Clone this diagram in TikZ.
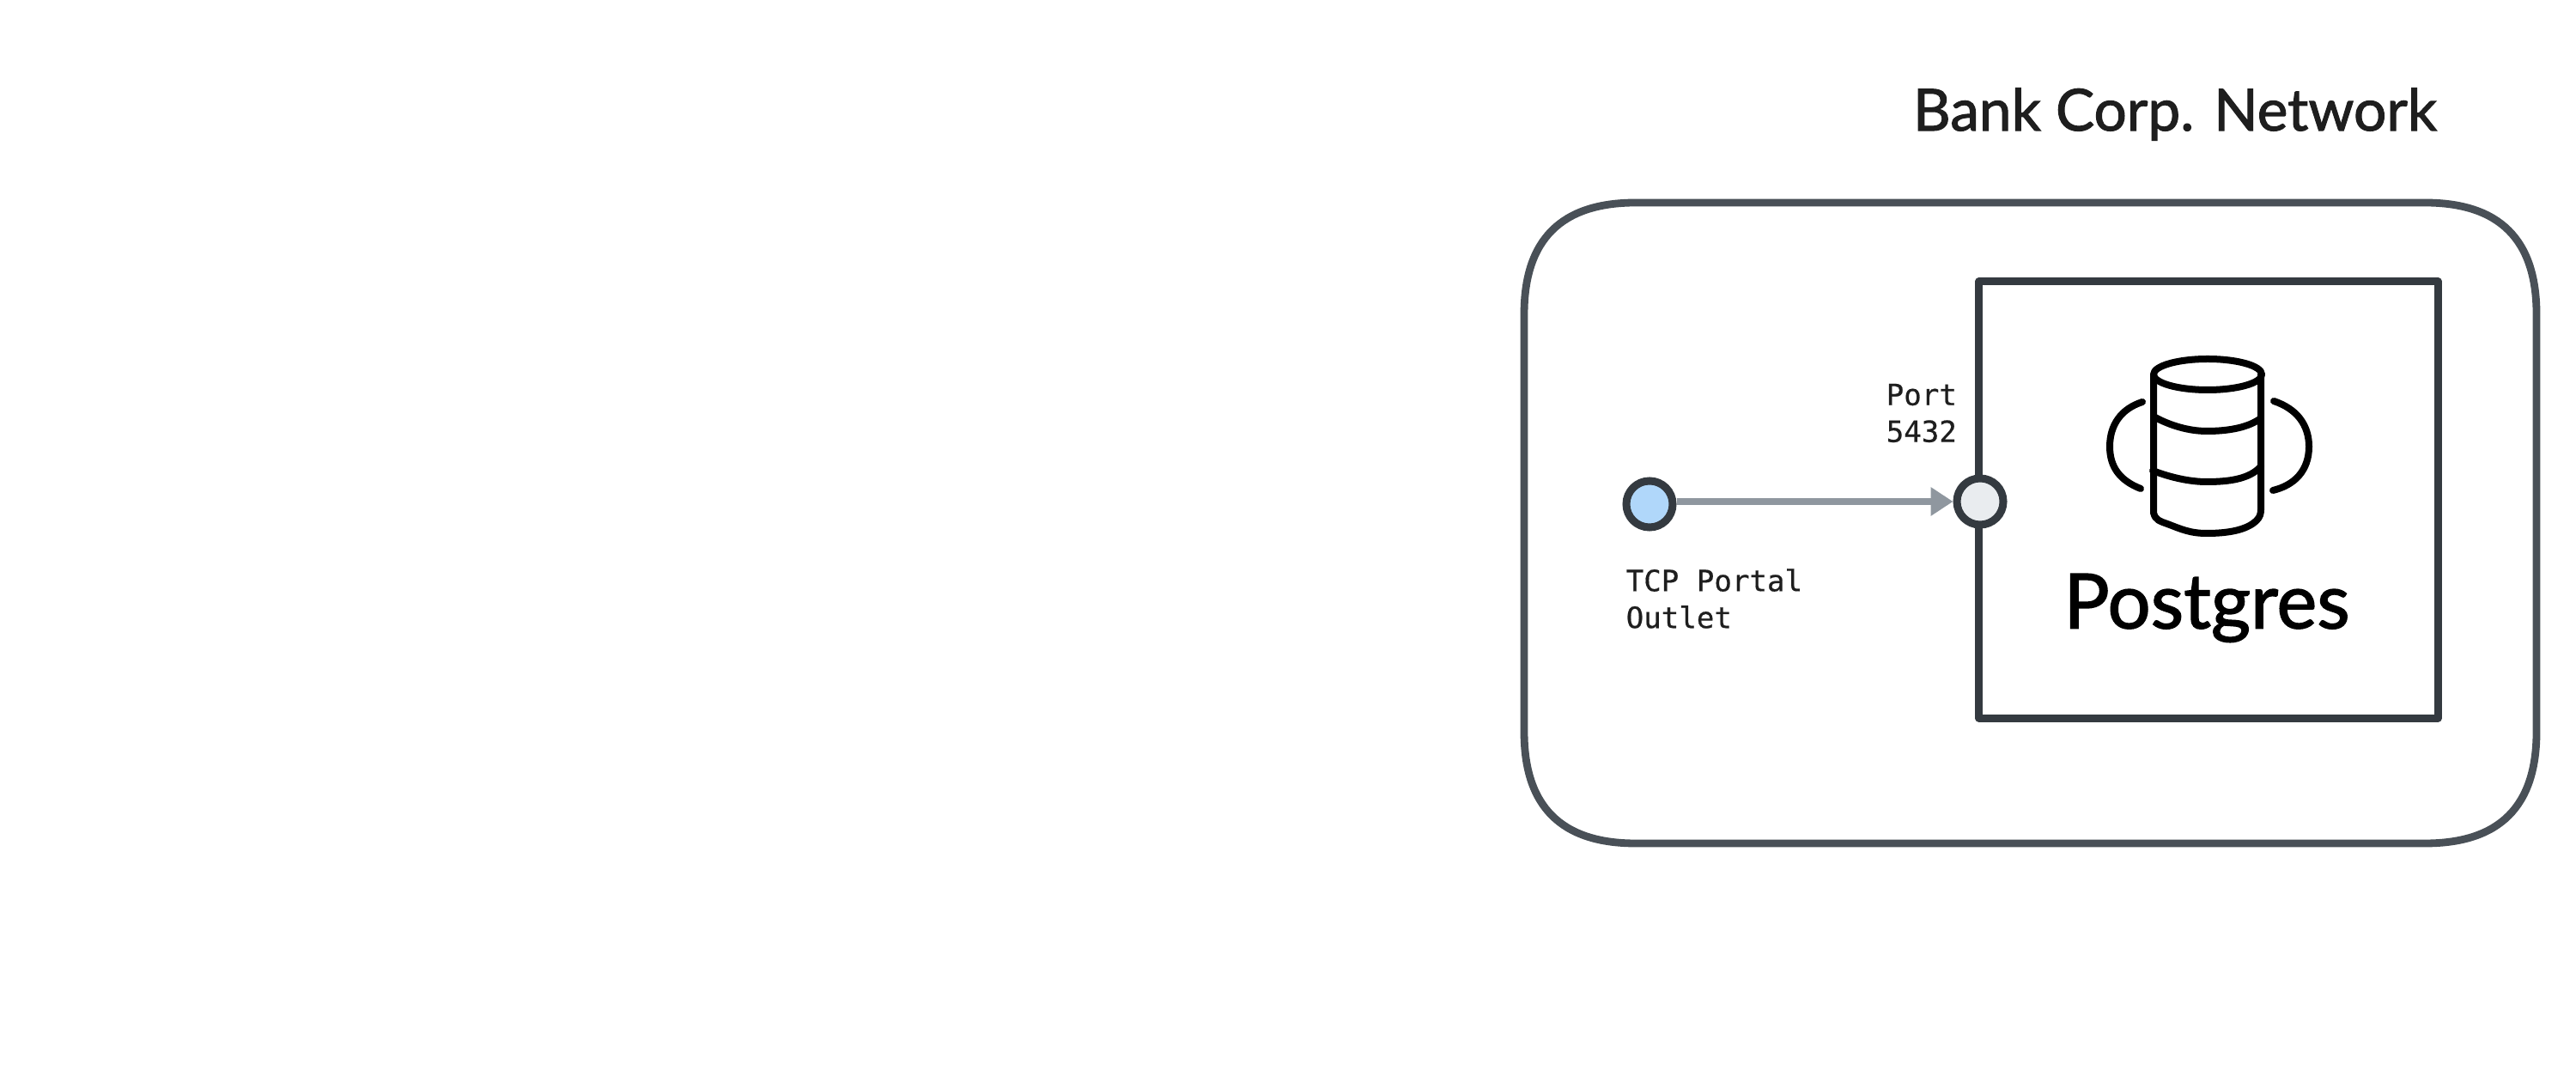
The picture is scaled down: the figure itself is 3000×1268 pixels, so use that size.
\documentclass[tikz,border=0pt]{standalone}
\usepackage{fontspec}
\setmainfont{Lato}
\setmonofont[FakeBold=0.5]{DejaVu Sans Mono}
\newfontfamily\handfont[FakeBold=1.6]{Lato}
\usetikzlibrary{arrows.meta}
\definecolor{outerc}{HTML}{495057}
\definecolor{innerc}{HTML}{343A40}
\definecolor{linkc}{HTML}{8F979F}
\definecolor{inkc}{HTML}{1E1E1E}
\definecolor{portalc}{HTML}{B0D7FA}
\definecolor{portc}{HTML}{E9ECEF}
\tikzset{
  x=0.01cm,y=-0.01cm,
  netline/.style={draw=outerc,line width=0.088cm},
  svcbox/.style={draw=innerc,line width=0.088cm,line join=round,minimum width=5.34cm,minimum height=5.08cm,inner sep=0pt},
  dot/.style={circle,draw=innerc,line width=0.09cm,minimum size=0.54cm,inner sep=0pt},
  monolabel/.style={font=\ttfamily\fontsize{9.7}{12.2}\selectfont,text=inkc,align=left,inner sep=0pt,anchor=west},
  link/.style={draw=linkc,line width=0.085cm,-{Triangle[length=0.26cm,width=0.32cm]},shorten >=0pt},
  icon/.style={draw=black,line width=0.08cm,line cap=round,line join=round},
}
\begin{document}
\begin{tikzpicture}
\useasboundingbox (0,0) rectangle (3000,1268);
\fill[white] (0,0) rectangle (3000,1268);
\draw[netline] (1775,366) .. controls (1775,279) and (1818,236) .. (1905,236)
  -- (2824,236) .. controls (2911,236) and (2954,279) .. (2954,366)
  -- (2954,852) .. controls (2954,939) and (2911,982) .. (2824,982)
  -- (1905,982) .. controls (1818,982) and (1775,939) .. (1775,852) -- cycle;
\node[svcbox] (svc) at (2572,582) {};
\node[dot,fill=portalc] (outlet) at (1921,587) {};
\node[dot,fill=portc] (port) at (2306,584) {};
\draw[link] (outlet.east |- port) -- (port.west);
\node[monolabel] (outletlabel) at (1893,697) {TCP Portal\\Outlet};
\node[monolabel] (portlabel) at (2196,481) {Port\\5432};
\node[font=\handfont\fontsize{19.2}{24}\selectfont,text=inkc,inner sep=0pt] (title) at (2533,133) {Bank Corp. Network};
\node[font=\handfont\fontsize{25.2}{28}\selectfont,text=black,inner sep=0pt] (pglabel) at (2570,708) {Postgres};
% database icon
\draw[icon] (2571,436) ellipse [x radius=63, y radius=18];
\draw[icon] (2508,436) -- (2508,597)
  .. controls (2510,606) and (2516,607) .. (2524,610)
  .. controls (2540,616) and (2550,621) .. (2570,621)
  .. controls (2592,621) and (2616,618) .. (2628,606)
  .. controls (2632,602) and (2633,598) .. (2633,593) -- (2633,436);
\draw[icon] (2508,485) .. controls (2528,496) and (2550,502) .. (2570,502) .. controls (2595,502) and (2618,498) .. (2633,487);
\draw[icon] (2507,548) .. controls (2528,556) and (2550,561) .. (2570,561) .. controls (2595,561) and (2620,558) .. (2633,543);
\draw[icon] (2495,468) .. controls (2470,476) and (2457,495) .. (2457,520) .. controls (2457,545) and (2470,560) .. (2493,569);
\draw[icon] (2648,467) .. controls (2675,476) and (2689,495) .. (2689,520) .. controls (2689,548) and (2672,565) .. (2647,571);
\end{tikzpicture}
\end{document}
